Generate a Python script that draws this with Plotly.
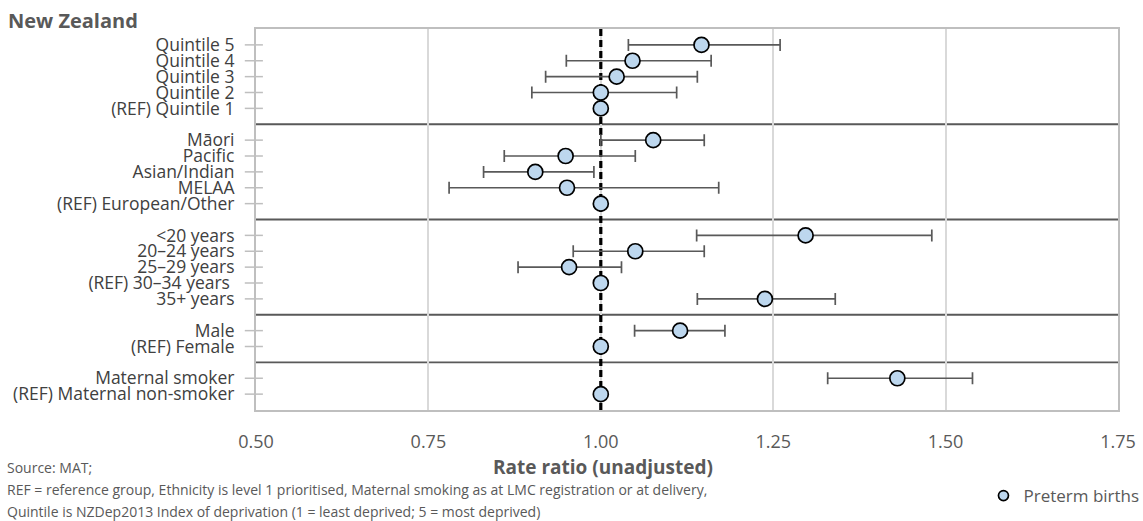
import plotly.graph_objects as go

# ---- data ----
group_labels = [
    ["Quintile 5", "Quintile 4", "Quintile 3", "Quintile 2", "(REF) Quintile 1"],
    ["Māori", "Pacific", "Asian/Indian", "MELAA", "(REF) European/Other"],
    ["<20 years", "20–24 years", "25–29 years", "(REF) 30–34 years\u00a0", "35+ years"],
    ["Male", "(REF) Female"],
    ["Maternal smoker", "(REF) Maternal non-smoker"],
]
rate_ratio = [1.146, 1.046, 1.023, 1.000, 1.000,
              1.076, 0.949, 0.905, 0.951, 1.000,
              1.297, 1.050, 0.954, 1.000, 1.238,
              1.115, 1.000,
              1.430, 1.000]
ci_low = [1.040, 0.950, 0.920, 0.900, None,
          1.000, 0.860, 0.830, 0.780, None,
          1.139, 0.960, 0.880, None, 1.140,
          1.049, None,
          1.329, None]
ci_high = [1.260, 1.160, 1.140, 1.110, None,
           1.150, 1.050, 0.990, 1.171, None,
           1.480, 1.150, 1.030, None, 1.340,
           1.180, None,
           1.539, None]
x_ticks = [0.50, 0.75, 1.00, 1.25, 1.50, 1.75]
reference_value = 1.0
series_name = "Preterm births"

# ---- layout of rows (slots) ----
labels, ypos, separators = [], [], []
slot = 1
for gi, g in enumerate(group_labels):
    for lab in g:
        labels.append(lab)
        ypos.append(slot)
        slot += 1
    if gi < len(group_labels) - 1:
        separators.append(slot)
        slot += 1
n_slots = slot  # range 0 .. n_slots

err_plus = [(h - r) if h is not None else None for h, r in zip(ci_high, rate_ratio)]
err_minus = [(r - l) if l is not None else None for l, r in zip(ci_low, rate_ratio)]

GREY = "#595959"
FONT = "Open Sans"
fig = go.Figure()
# dashed reference line
fig.add_trace(go.Scatter(
    x=[reference_value, reference_value], y=[0, n_slots], mode="lines", showlegend=False,
    line=dict(color="black", width=3.2, dash="7px,4px"), hoverinfo="skip",
))
fig.add_trace(go.Scatter(
    x=rate_ratio, y=ypos, mode="markers", showlegend=False,
    marker=dict(size=15, color="#BDD7EE", line=dict(color="black", width=1.7)),
    error_x=dict(type="data", symmetric=False, array=err_plus, arrayminus=err_minus,
                 color=GREY, thickness=1.7, width=6),
    hoverinfo="x+y",
))
fig.add_trace(go.Scatter(
    x=[None], y=[None], mode="markers", name=series_name,
    marker=dict(size=10, color="#BDD7EE", line=dict(color="black", width=1.7)),
))

shapes = []
for s in separators:
    shapes.append(dict(type="line", xref="paper", yref="y", x0=0, x1=1, y0=s, y1=s,
                       line=dict(color=GREY, width=1.9), layer="between"))
for y in ypos:
    shapes.append(dict(type="line", xref="paper", yref="y", x0=-0.013, x1=0.008, y0=y, y1=y,
                       line=dict(color="#BFBFBF", width=1.5), layer="between"))
fig.update_layout(shapes=shapes)

ann_font = dict(family=FONT, size=14, color=GREY)
L = 255.5
W = 862.5
H = 381.0
def px(xp):
    return (xp - L) / W
def py(yp):
    return (410 - yp) / H

annotations = [
    dict(text="Source: MAT;", x=px(4), y=py(467), xref="paper", yref="paper",
         xanchor="left", yanchor="middle", showarrow=False, font=ann_font),
    dict(text="REF = reference group, Ethnicity is level 1 prioritised, Maternal smoking as at LMC registration or at delivery,",
         x=px(4), y=py(489), xref="paper", yref="paper",
         xanchor="left", yanchor="middle", showarrow=False, font=ann_font),
    dict(text="Quintile is NZDep2013 Index of deprivation (1 = least deprived; 5 = most deprived)",
         x=px(4), y=py(511), xref="paper", yref="paper",
         xanchor="left", yanchor="middle", showarrow=False, font=ann_font),
    dict(text="<b>Rate ratio (unadjusted)</b>", x=px(603), y=py(467), xref="paper", yref="paper",
         xanchor="center", yanchor="middle", showarrow=False,
         font=dict(family=FONT, size=19, color=GREY)),
]
fig.update_layout(annotations=annotations)

fig.update_layout(
    width=1143, height=521,
    margin=dict(l=255.5, r=25, t=29, b=111, autoexpand=False),
    paper_bgcolor="white", plot_bgcolor="white",
    font=dict(family=FONT, color="#404040"),
    title=dict(text="<b>New Zealand</b>", x=8 / 1143, xref="container", xanchor="left",
               y=1 - 21 / 521, yref="container", yanchor="middle",
               font=dict(family=FONT, size=20, color=GREY)),
    xaxis=dict(range=[0.5, 1.75], tickvals=x_ticks, ticktext=[f"{v:.2f}" for v in x_ticks],
               showgrid=True, gridcolor="#D9D9D9", gridwidth=1.5,
               showline=True, linecolor="#BFBFBF", linewidth=2, mirror=True,
               ticks="outside", ticklen=14, tickcolor="rgba(0,0,0,0)",
               tickfont=dict(family=FONT, size=18, color=GREY),
               zeroline=False),
    yaxis=dict(range=[n_slots, 0], tickvals=ypos, ticktext=labels,
               showgrid=False, zeroline=False,
               showline=True, linecolor="#BFBFBF", linewidth=2, mirror=True,
               ticks="outside", ticklen=16, tickcolor="rgba(0,0,0,0)",
               tickfont=dict(family=FONT, size=17.5, color="#404040")),
    legend=dict(x=1.0307, xanchor="right", y=py(496), yanchor="middle",
                font=dict(family=FONT, size=17, color=GREY),
                bgcolor="rgba(0,0,0,0)", itemwidth=30),
)

fig.write_html("out.html")
